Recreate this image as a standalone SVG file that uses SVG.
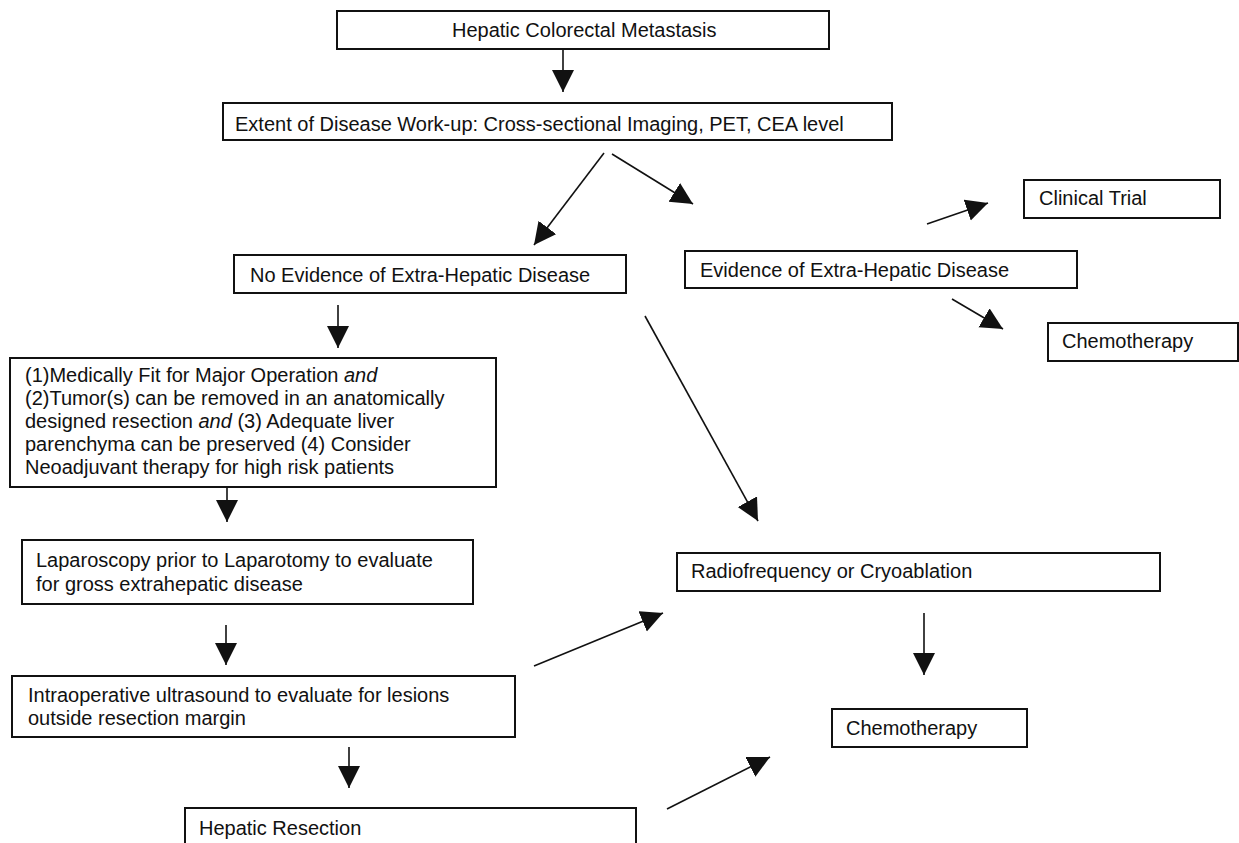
<svg xmlns="http://www.w3.org/2000/svg" width="1239" height="843" viewBox="0 0 1239 843">
<defs>
<marker id="ah" markerUnits="userSpaceOnUse" markerWidth="24" markerHeight="24" refX="22" refY="11" orient="auto">
<path d="M0,0 L22,11 L0,22 z" fill="#111"/>
</marker>
<style>
.box{fill:#fff;stroke:#111;stroke-width:2}
.t{font-family:"Liberation Sans",Arial,sans-serif;font-size:20px;fill:#111}
.c{fill:none;stroke:#111;stroke-width:1.6}
</style>
</defs>
<rect width="1239" height="843" fill="#fff"/>
<g id="connectors">
<line class="c" x1="563" y1="50" x2="563" y2="92" marker-end="url(#ah)"/>
<line class="c" x1="604" y1="153" x2="534" y2="245" marker-end="url(#ah)"/>
<line class="c" x1="612" y1="154" x2="693" y2="204" marker-end="url(#ah)"/>
<line class="c" x1="927" y1="224" x2="988" y2="203" marker-end="url(#ah)"/>
<line class="c" x1="952" y1="299" x2="1003" y2="329" marker-end="url(#ah)"/>
<line class="c" x1="338" y1="305" x2="338" y2="348" marker-end="url(#ah)"/>
<line class="c" x1="645" y1="316" x2="758" y2="521" marker-end="url(#ah)"/>
<line class="c" x1="227" y1="481" x2="227" y2="522" marker-end="url(#ah)"/>
<line class="c" x1="226" y1="625" x2="226" y2="665" marker-end="url(#ah)"/>
<line class="c" x1="349" y1="747" x2="349" y2="788" marker-end="url(#ah)"/>
<line class="c" x1="534" y1="666" x2="663" y2="613" marker-end="url(#ah)"/>
<line class="c" x1="924" y1="613" x2="924" y2="675" marker-end="url(#ah)"/>
<line class="c" x1="667" y1="809" x2="770" y2="757" marker-end="url(#ah)"/>
</g>
<g id="n-hcm"><rect class="box" x="337" y="11" width="492" height="38"/><text class="t" x="452" y="37">Hepatic Colorectal Metastasis</text></g>
<g id="n-extent"><rect class="box" x="223" y="103" width="669" height="37"/><text class="t" x="235" y="131">Extent of Disease Work-up: Cross-sectional Imaging, PET, CEA level</text></g>
<g id="n-noevid"><rect class="box" x="234" y="255" width="392" height="38"/><text class="t" x="250" y="282">No Evidence of Extra-Hepatic Disease</text></g>
<g id="n-evid"><rect class="box" x="685" y="251" width="392" height="37"/><text class="t" x="700" y="277">Evidence of Extra-Hepatic Disease</text></g>
<g id="n-trial"><rect class="box" x="1024" y="180" width="196" height="38"/><text class="t" x="1039" y="205">Clinical Trial</text></g>
<g id="n-chemo1"><rect class="box" x="1048" y="323" width="190" height="38"/><text class="t" x="1062" y="348">Chemotherapy</text></g>
<g id="n-criteria"><rect class="box" x="10" y="358" width="486" height="129"/>
<text class="t" x="25" y="382">(1)Medically Fit for Major Operation <tspan font-style="italic">and</tspan></text>
<text class="t" x="25" y="405">(2)Tumor(s) can be removed in an anatomically</text>
<text class="t" x="25" y="428">designed resection <tspan font-style="italic">and</tspan> (3) Adequate liver</text>
<text class="t" x="25" y="451">parenchyma can be preserved (4) Consider</text>
<text class="t" x="25" y="474">Neoadjuvant therapy for high risk patients</text></g>
<g id="n-lap"><rect class="box" x="22" y="540" width="451" height="64"/>
<text class="t" x="36" y="567">Laparoscopy prior to Laparotomy to evaluate</text>
<text class="t" x="36" y="591">for gross extrahepatic disease</text></g>
<g id="n-ious"><rect class="box" x="12" y="676" width="503" height="61"/>
<text class="t" x="28" y="702">Intraoperative ultrasound to evaluate for lesions</text>
<text class="t" x="28" y="725">outside resection margin</text></g>
<g id="n-resect"><rect class="box" x="185" y="808" width="451" height="50"/><text class="t" x="199" y="835">Hepatic Resection</text></g>
<g id="n-rfa"><rect class="box" x="677" y="553" width="483" height="38"/><text class="t" x="691" y="578">Radiofrequency or Cryoablation</text></g>
<g id="n-chemo2"><rect class="box" x="832" y="709" width="195" height="38"/><text class="t" x="846" y="735">Chemotherapy</text></g>
</svg>
